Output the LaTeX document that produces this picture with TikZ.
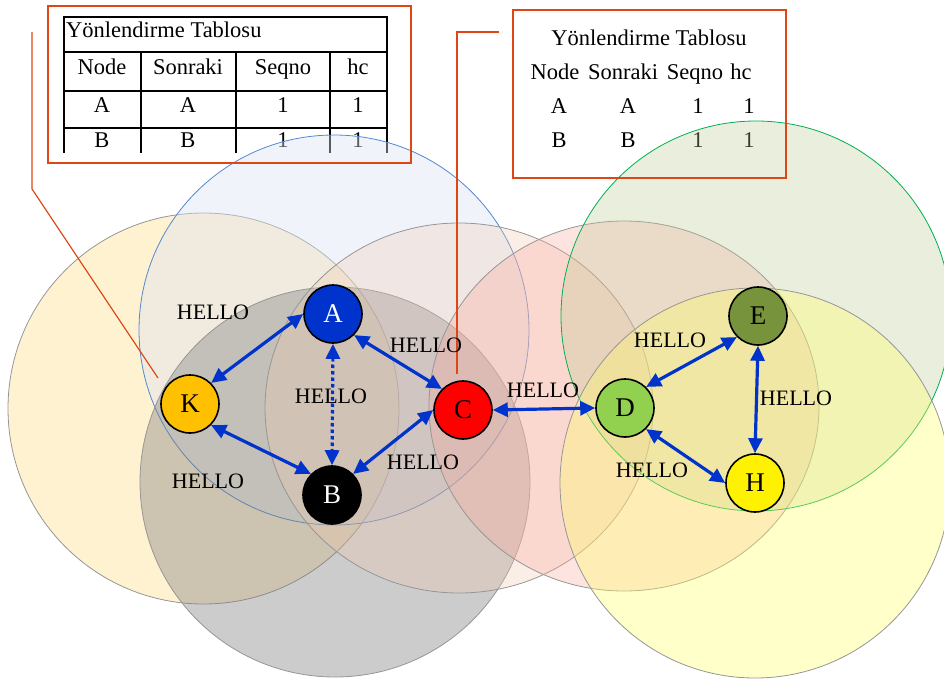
\documentclass[tikz,border=0pt]{standalone}
\usepackage{fontspec}
\setmainfont{Liberation Serif}
\usetikzlibrary{arrows.meta}

\definecolor{linkblue}{RGB}{0,51,204}
\definecolor{calloutred}{RGB}{222,70,20}
\definecolor{edgegray}{RGB}{150,150,150}
\definecolor{rangeK}{RGB}{255,229,163}
\definecolor{rangeA}{RGB}{218,227,243}
\definecolor{rangeAedge}{RGB}{84,136,210}
\definecolor{rangeB}{RGB}{127,127,127}
\definecolor{rangeC}{RGB}{240,200,175}
\definecolor{rangeD}{RGB}{253,165,153}
\definecolor{rangeE}{RGB}{185,198,142}
\definecolor{rangeEedge}{RGB}{0,176,80}
\definecolor{rangeH}{RGB}{255,255,102}
\definecolor{hostK}{RGB}{255,192,0}
\definecolor{hostA}{RGB}{0,51,204}
\definecolor{hostD}{RGB}{146,208,80}
\definecolor{hostE}{RGB}{119,147,60}

\tikzset{
  coverage/.style={draw=edgegray, line width=0.8pt},
  hostnode/.style={circle, draw=black, line width=1.6pt, minimum size=58pt,
    inner sep=0pt, font=\fontsize{27}{27}\selectfont},
  hellotext/.style={inner sep=0pt, anchor=base, font=\fontsize{22}{22}\selectfont},
  tcell/.style={inner sep=0pt, anchor=base, font=\fontsize{22.5}{22.5}\selectfont},
  tablerule/.style={draw=black, line width=1.5pt},
  callout/.style={draw=calloutred, line width=1.2pt},
  hostlink/.style={draw=linkblue, line width=3.2pt,
    {Triangle[length=15pt,width=14pt]}-{Triangle[length=15pt,width=14pt]}},
  weaklink/.style={hostlink, dash pattern=on 3.5pt off 3pt}
}

\begin{document}
\begin{tikzpicture}[x=1pt,y=-1pt]
\useasboundingbox (0,0) rectangle (944,679);
\clip (0,0) rectangle (944,679);

% ---- routing table of the left side (ruled)
\draw[tablerule] (64,153) -- (64,17) -- (387,17) -- (387,153);
\draw[tablerule] (64,52) -- (387,52);
\draw[tablerule] (64,91) -- (387,91);
\draw[tablerule] (64,128) -- (387,128);
\draw[tablerule] (141,52) -- (141,153);
\draw[tablerule] (236,52) -- (236,153);
\draw[tablerule] (330,52) -- (330,153);
\node[tcell, anchor=base west] (lt) at (66,38) {Yönlendirme Tablosu};
\node[tcell] (lh1) at (102,75) {Node};
\node[tcell] (lh2) at (188,75) {Sonraki};
\node[tcell] (lh3) at (283,75) {Seqno};
\node[tcell] (lh4) at (358,75) {hc};
\node[tcell] (la1) at (102,113) {A};
\node[tcell] (la2) at (188,113) {A};
\node[tcell] (la3) at (283,113) {1};
\node[tcell] (la4) at (358,113) {1};
\node[tcell] (lb1) at (102,148) {B};
\node[tcell] (lb2) at (188,148) {B};
\node[tcell] (lb3) at (283,148) {1};
\node[tcell] (lb4) at (358,148) {1};

% ---- routing table of the right side (plain)
\node[tcell] (rt) at (649,46) {Yönlendirme Tablosu};
\node[tcell] (rh1) at (555,80) {Node};
\node[tcell] (rh2) at (623,80) {Sonraki};
\node[tcell] (rh3) at (695,80) {Seqno};
\node[tcell] (rh4) at (741,80) {hc};
\node[tcell] (ra1) at (559,114) {A};
\node[tcell] (ra2) at (628,114) {A};
\node[tcell] (ra3) at (698,114) {1};
\node[tcell] (ra4) at (749,114) {1};
\node[tcell] (rb1) at (559,148) {B};
\node[tcell] (rb2) at (628,148) {B};
\node[tcell] (rb3) at (698,148) {1};
\node[tcell] (rb4) at (749,148) {1};

% ---- radio ranges
\path[coverage, fill=rangeK, fill opacity=0.5] (203.5,408.5) circle[radius=195.5pt];
\path[draw=rangeAedge, line width=0.8pt, fill=rangeA, fill opacity=0.4] (334,330) circle[radius=195pt];
\path[coverage, fill=rangeB, fill opacity=0.4] (335,482) circle[radius=195pt];
\path[coverage, fill=rangeC, fill opacity=0.3] (459,408) ellipse[x radius=194pt, y radius=185pt];
\path[coverage, fill=rangeD, fill opacity=0.3] (624,406) ellipse[x radius=195pt, y radius=185pt];
\path[draw=rangeEedge, line width=0.8pt, fill=rangeE, fill opacity=0.3] (756,316) circle[radius=195pt];
\path[coverage, fill=rangeH, fill opacity=0.35] (755,483) circle[radius=195pt];

% ---- callout frames and leaders
\draw[callout] (48,6) rectangle (411,163);
\draw[callout] (513,10) rectangle (786,178);
\coordinate (lcTop) at (32,32);
\coordinate (lcBend) at (32,189);
\coordinate (lcEnd) at (158,378);
\draw[callout] (lcTop) -- (lcBend) -- (lcEnd);
\coordinate (rcStart) at (499,32);
\coordinate (rcBend) at (457,32);
\coordinate (rcEnd) at (457,374);
\draw[callout] (rcStart) -- (rcBend) -- (rcEnd);

% ---- hosts
\node[hostnode, fill=hostA, text=white] (A) at (333,314) {A};
\node[hostnode, fill=hostK] (K) at (190,404) {K};
\node[hostnode, fill=black, text=white] (B) at (332,495) {B};
\node[hostnode, fill=red] (C) at (463,410) {C};
\node[hostnode, fill=hostD] (D) at (625,408) {D};
\node[hostnode, fill=hostE] (E) at (758,316) {E};
\node[hostnode, fill=yellow] (H) at (755,483) {H};

% ---- links
\draw[hostlink] (K.45) -- (A.180);
\draw[hostlink] (A.-45) -- (C.135);
\draw[hostlink] (K.-45) -- (B.135);
\draw[hostlink] (B.45) -- (C.180);
\draw[weaklink] (A.south) -- (B.north);
\draw[hostlink] (C.east) -- (D.west);
\draw[hostlink] (D.45) -- (E.225);
\draw[hostlink] (E.south) -- (H.north);
\draw[hostlink] (D.-45) -- (H.180);

% ---- HELLO labels
\node[hellotext] (h1) at (213,319) {HELLO};
\node[hellotext] (h2) at (426,352) {HELLO};
\node[hellotext] (h3) at (331,403) {HELLO};
\node[hellotext] (h4) at (423,469) {HELLO};
\node[hellotext] (h5) at (208,488) {HELLO};
\node[hellotext] (h6) at (543,397) {HELLO};
\node[hellotext] (h7) at (670,347) {HELLO};
\node[hellotext] (h8) at (796,405) {HELLO};
\node[hellotext] (h9) at (652,477) {HELLO};
\end{tikzpicture}
\end{document}
